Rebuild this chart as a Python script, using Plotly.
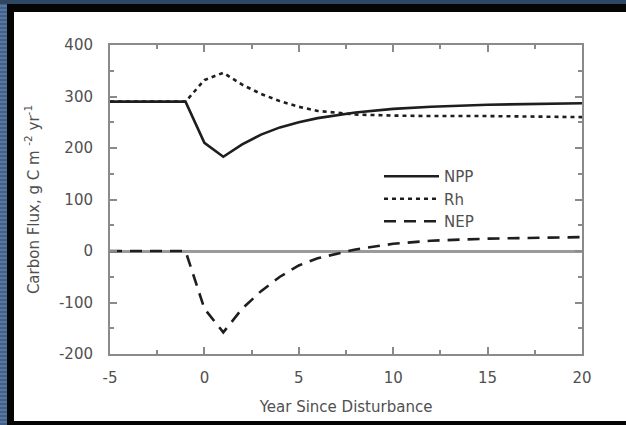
import plotly.graph_objects as go

# ---- data ----
years = [-5, -1, 0, 1, 2, 3, 4, 5, 6, 7, 8, 10, 12, 15, 20]
npp = [290, 290, 210, 183, 207, 226, 240, 250, 258, 264, 269, 276, 280, 284, 287]
rh = [290, 290, 332, 346, 323, 305, 291, 280, 272, 268, 265, 263, 262, 262, 260]
nep = [0, 0, -112, -158, -112, -78, -50, -28, -14, -5, 3, 14, 20, 24, 27]

series_names = ["NPP", "Rh", "NEP"]
x_ticks = [-5, 0, 5, 10, 15, 20]
y_ticks = [-200, -100, 0, 100, 200, 300, 400]

# ---- layout geometry helpers (pixels -> paper) ----
W, H = 626, 425
L, R, T, B = 110, 582, 45, 354


def px(x):
    return (x - L) / (R - L)


def py(y):
    return (B - y) / (B - T)


INK = "#1e1e1e"
TXT = "#505050"
AX = "#8a8a8a"
FONT = "DejaVu Sans, Verdana, sans-serif"

fig = go.Figure()
fig.add_trace(go.Scatter(x=years, y=npp, name=series_names[0], mode="lines",
                         line=dict(color=INK, width=2.6)))
fig.add_trace(go.Scatter(x=years, y=rh, name=series_names[1], mode="lines",
                         line=dict(color=INK, width=2.6, dash="4px,4px")))
fig.add_trace(go.Scatter(x=years, y=nep, name=series_names[2], mode="lines",
                         line=dict(color=INK, width=2.6, dash="12px,8px")))

shapes = [
    # black frame
    dict(type="rect", xref="paper", yref="paper", layer="below",
         x0=px(7), x1=px(W + 5), y0=py(H + 5), y1=py(4),
         fillcolor="#050505", line=dict(width=0)),
    # left textured strip
    dict(type="rect", xref="paper", yref="paper", layer="below",
         x0=px(-5), x1=px(7), y0=py(H + 5), y1=py(4),
         fillcolor="#41608a", line=dict(width=0)),
    # white panel
    dict(type="rect", xref="paper", yref="paper", layer="below",
         x0=px(14), x1=px(W + 5), y0=py(421), y1=py(12),
         fillcolor="white", line=dict(width=0)),
]
# stripes on the left strip
for yy in range(6, H, 4):
    shapes.append(dict(type="line", xref="paper", yref="paper", layer="below",
                       x0=px(0), x1=px(7), y0=py(yy), y1=py(yy),
                       line=dict(color="#6f8db5", width=1)))

axis_common = dict(
    showgrid=False, showline=True, linecolor=AX, linewidth=2,
    mirror="ticks", ticks="inside", ticklen=7, tickwidth=2, tickcolor=AX,
    tickfont=dict(size=15, color=TXT, family=FONT),
)

fig.update_layout(
    width=W, height=H,
    margin=dict(l=L, r=W - R, t=T, b=H - B),
    paper_bgcolor="#2e4763",
    plot_bgcolor="white",
    font=dict(family=FONT, color=TXT, size=15),
    shapes=shapes,
    showlegend=True,
    legend=dict(x=px(379), y=py(160), xanchor="left", yanchor="top",
                bgcolor="rgba(0,0,0,0)", font=dict(size=15, color=TXT, family=FONT),
                itemwidth=55, tracegroupgap=0),
    xaxis=dict(
        range=[-5, 20], tickvals=x_ticks, ticktext=[str(v) for v in x_ticks],
        minor=dict(ticks="inside", dtick=2.5, ticklen=4, tickwidth=2, tickcolor=AX),
        ticklabelstandoff=9,
        title=dict(text="Year Since Disturbance", font=dict(size=15, color=TXT, family=FONT),
                   standoff=15),
        zeroline=False,
        **axis_common,
    ),
    yaxis=dict(
        range=[-200, 400], tickvals=y_ticks, ticktext=[str(v) for v in y_ticks],
        minor=dict(ticks="inside", dtick=50, ticklen=4, tickwidth=2, tickcolor=AX),
        ticklabelstandoff=12,
        title=dict(text="Carbon Flux, g C m <sup>-2</sup> yr<sup>-1</sup>",
                   font=dict(size=15, color=TXT, family=FONT), standoff=16),
        zeroline=True, zerolinecolor="#9a9a9a", zerolinewidth=3,
        **axis_common,
    ),
)

fig.write_html(
    "out.html",
    config={"displayModeBar": False},
    post_script="document.body.style.margin='0px';document.body.style.overflow='hidden';",
)
